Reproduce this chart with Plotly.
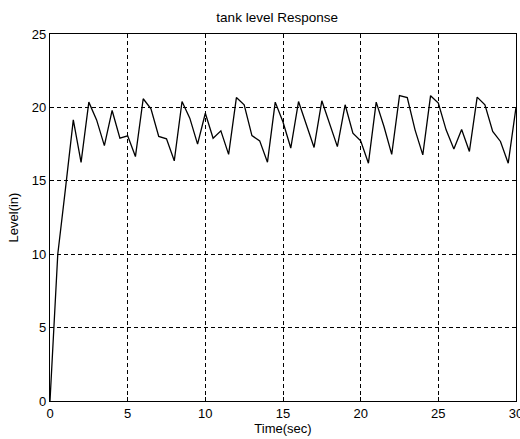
import plotly.graph_objects as go

time_sec = [0, 0.5, 1.0, 1.5, 2.0, 2.5, 3.0, 3.5, 4.0, 4.5, 5.0, 5.5, 6.0, 6.5, 7.0, 7.5,
            8.0, 8.5, 9.0, 9.5, 10.0, 10.5, 11.0, 11.5, 12.0, 12.5, 13.0, 13.5, 14.0, 14.5,
            15.0, 15.5, 16.0, 16.5, 17.0, 17.5, 18.0, 18.5, 19.0, 19.5, 20.0, 20.5, 21.0,
            21.5, 22.0, 22.5, 23.0, 23.5, 24.0, 24.5, 25.0, 25.5, 26.0, 26.5, 27.0, 27.5,
            28.0, 28.5, 29.0, 29.5, 30.0]
level_in = [0, 10.0, 14.5, 19.15, 16.25, 20.36, 19.15, 17.4, 19.79, 17.9, 18.06, 16.65,
            20.59, 19.9, 18.02, 17.86, 16.36, 20.4, 19.27, 17.5, 19.6, 17.9, 18.4, 16.8,
            20.67, 20.18, 18.08, 17.72, 16.27, 20.36, 19.0, 17.23, 20.4, 18.8, 17.27, 20.45,
            18.9, 17.33, 20.18, 18.25, 17.72, 16.2, 20.36, 18.7, 16.8, 20.8, 20.67, 18.47,
            16.77, 20.8, 20.3, 18.47, 17.16, 18.5, 17.0, 20.7, 20.18, 18.36, 17.68, 16.2, 20.0]

x_ticks = [0, 5, 10, 15, 20, 25, 30]
y_ticks = [0, 5, 10, 15, 20, 25]

title_text = "tank level Response"
x_label = "Time(sec)"
y_label = "Level(in)"

fig = go.Figure()
fig.add_trace(go.Scatter(x=time_sec, y=level_in, mode="lines",
                         line=dict(color="black", width=1.3), showlegend=False))

axis_common = dict(
    showline=True, linecolor="black", linewidth=1.2, mirror=True,
    showgrid=True, gridcolor="black", gridwidth=1, griddash="4px,3px",
    ticks="inside", ticklen=4, tickcolor="black",
    zeroline=False, tickfont=dict(size=13, color="black"), automargin=False,
    ticklabeloverflow="allow",
)

fig.update_xaxes(range=[0, 30], tickvals=x_ticks, **axis_common,
                 title=dict(text=x_label, font=dict(size=13, color="black"), standoff=4))
fig.update_yaxes(range=[0, 25], tickvals=y_ticks, **axis_common,
                 title=dict(text=y_label, font=dict(size=13, color="black"), standoff=10))

fig.update_layout(
    width=520, height=439,
    margin=dict(l=50, r=4, t=34, b=38),
    paper_bgcolor="white", plot_bgcolor="white",
    font=dict(family="Liberation Sans, Arial, sans-serif", color="black"),
    title=dict(text=title_text, x=0.533, xanchor="center", y=0.961, yanchor="middle",
               font=dict(size=13.5, color="black")),
)

# Remove the default page margin so the figure sits at the window's top-left corner.
fig.write_html(
    "out.html",
    config={"displayModeBar": False},
    post_script="document.body.style.margin='0';document.body.style.overflow='hidden';",
)
